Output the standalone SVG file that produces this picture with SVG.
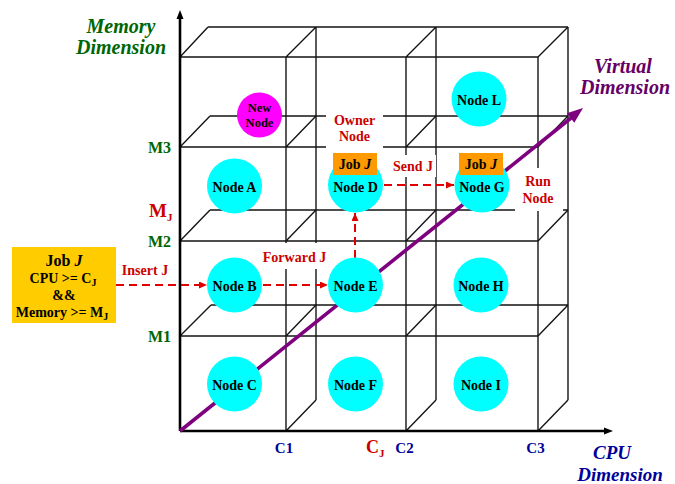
<svg xmlns="http://www.w3.org/2000/svg" width="675" height="484" viewBox="0 0 675 484">
<defs>
<style>
text{font-family:"Liberation Serif","Times New Roman",serif;font-weight:bold}
.g{stroke:#151515;stroke-width:1.4;fill:none}
.ax{stroke:#000;stroke-width:2.6;fill:none}
.bg{fill:#fff}
.cy{fill:#00FFFF}
.nt{font-size:14px;fill:#000;text-anchor:middle}
.job{fill:#FF9900}
.red{fill:#CC0000;font-size:14px;text-anchor:middle}
.dash{stroke:#E00000;stroke-width:2;stroke-dasharray:8,5;fill:none}
.mg{fill:#006600;font-size:16px;text-anchor:end}
.cb{fill:#000099;font-size:15px;text-anchor:middle}
.it{font-style:italic;font-size:20px;text-anchor:middle}
</style>
<marker id="ra" markerWidth="8" markerHeight="7" refX="8" refY="3.5" orient="auto" markerUnits="userSpaceOnUse">
<path d="M0,0 L8,3.5 L0,7 z" fill="#E00000"/>
</marker>
</defs>
<rect width="675" height="484" fill="#fff"/>
<g id="grid">
<path class="g" d="M180,57 H538 M208,27 H568 M180,57 L208,27 M286,57 L316,27 M406,57 L436,27 M538,57 L568,27"/>
<path class="g" d="M180,147 H538 M210,116 H568 M180,147 L210,116 M286,147 L316,116 M406,147 L436,116 M538,147 L568,116"/>
<path class="g" d="M180,241 H538 M210,210 H568 M180,241 L210,210 M286,241 L316,210 M406,241 L436,210 M538,241 L568,210"/>
<path class="g" d="M180,336 H538 M211,305 H568 M180,336 L211,305 M286,336 L316,305 M406,336 L436,305 M538,336 L568,305"/>
<path class="g" d="M286,431 L316,400 M406,431 L436,400 M538,431 L568,400"/>
<path class="g" d="M286,57 V431 M406,57 V431 M538,57 V431 M316,27 V400 M436,27 V400 M568,27 V400"/>
<path class="ax" d="M180,431 V18 M180,431 H604"/>
<polygon points="180,10 176.5,19 183.5,19" fill="#000"/>
<polygon points="613,431 604,427.5 604,434.5" fill="#000"/>
</g>
<g id="label-backgrounds">
<rect class="bg" x="326" y="106" width="57" height="45"/>
<rect class="bg" x="389" y="155" width="47" height="22"/>
<rect class="bg" x="260" y="243" width="70" height="26"/>
<rect class="bg" x="515" y="168" width="48" height="43"/>
</g>
<g id="connectors">
<line x1="180" y1="431" x2="571" y2="118" stroke="#7F007F" stroke-width="3.6"/>
<polygon points="583,108 574.3,122.7 566.8,113.3" fill="#7F007F"/>
<line class="dash" x1="116" y1="285" x2="207" y2="285" marker-end="url(#ra)"/>
<line class="dash" x1="263" y1="285" x2="328" y2="285" marker-end="url(#ra)"/>
<line class="dash" x1="355" y1="258" x2="355" y2="213" marker-end="url(#ra)"/>
<line class="dash" x1="384" y1="185" x2="454" y2="185" marker-end="url(#ra)"/>
</g>
<g id="node-new">
<circle cx="259.5" cy="115" r="22.5" fill="#FF00FF"/>
<text x="259.5" y="112" style="font-size:12.5px;text-anchor:middle">New</text>
<text x="259.5" y="127" style="font-size:12.5px;text-anchor:middle">Node</text>
</g>
<g id="node-l"><circle class="cy" cx="479" cy="99" r="27.5"/><text class="nt" x="479" y="105">Node L</text></g>
<g id="node-a"><circle class="cy" cx="234.5" cy="186" r="27.5"/><text class="nt" x="234.5" y="192">Node A</text></g>
<g id="node-d"><circle class="cy" cx="355.5" cy="185" r="27.5"/><text class="nt" x="355.5" y="192">Node D</text>
<rect class="job" x="333" y="153" width="44" height="22"/><text class="nt" x="355" y="169">Job <tspan font-style="italic">J</tspan></text></g>
<g id="node-g"><circle class="cy" cx="482" cy="185" r="27.5"/><text class="nt" x="482" y="192">Node G</text>
<rect class="job" x="459" y="153" width="44" height="22"/><text class="nt" x="481" y="169">Job <tspan font-style="italic">J</tspan></text></g>
<g id="node-b"><circle class="cy" cx="234.5" cy="285" r="27.5"/><text class="nt" x="234.5" y="291">Node B</text></g>
<g id="node-e"><circle class="cy" cx="355.5" cy="285" r="27.5"/><text class="nt" x="355.5" y="291">Node E</text></g>
<g id="node-h"><circle class="cy" cx="481" cy="285" r="27.5"/><text class="nt" x="481" y="291">Node H</text></g>
<g id="node-c"><circle class="cy" cx="234.5" cy="384" r="27.5"/><text class="nt" x="234.5" y="390">Node C</text></g>
<g id="node-f"><circle class="cy" cx="355.5" cy="384" r="27.5"/><text class="nt" x="355.5" y="390">Node F</text></g>
<g id="node-i"><circle class="cy" cx="481" cy="384" r="27.5"/><text class="nt" x="481" y="390">Node I</text></g>
<g id="job-request">
<rect x="12" y="247" width="104" height="76" fill="#FFCC00"/>
<text x="64" y="266" style="font-size:16px;text-anchor:middle">Job <tspan font-style="italic">J</tspan></text>
<text x="63" y="283" style="font-size:14px;text-anchor:middle">CPU &gt;= C<tspan font-size="10" dy="3">J</tspan></text>
<text x="64" y="300" style="font-size:14px;text-anchor:middle">&amp;&amp;</text>
<text x="62" y="317" style="font-size:14px;text-anchor:middle">Memory &gt;= M<tspan font-size="10" dy="3">J</tspan></text>
</g>
<g id="labels">
<text class="red" x="354.5" y="125">Owner</text>
<text class="red" x="354.5" y="141">Node</text>
<text class="red" x="413" y="171">Send J</text>
<text class="red" x="294.5" y="262">Forward J</text>
<text class="red" x="145" y="275">Insert J</text>
<text class="red" x="538" y="186">Run</text>
<text class="red" x="538" y="203">Node</text>
<text class="mg" x="171" y="153">M3</text>
<text class="mg" x="171" y="247">M2</text>
<text class="mg" x="171" y="342">M1</text>
<text x="149" y="217" style="font-size:19px;fill:#CC0000">M<tspan font-size="11" dy="4">J</tspan></text>
<text class="cb" x="284" y="453">C1</text>
<text class="cb" x="404.5" y="453">C2</text>
<text class="cb" x="535.5" y="453">C3</text>
<text x="366" y="453" style="font-size:18px;fill:#CC0000">C<tspan font-size="11" dy="4">J</tspan></text>
<text class="it" x="121" y="33" fill="#006600">Memory</text>
<text class="it" x="121" y="54" fill="#006600">Dimension</text>
<text class="it" x="623" y="73" fill="#660066">Virtual</text>
<text class="it" x="625" y="94" fill="#660066">Dimension</text>
<text class="it" x="612" y="459" fill="#000099" style="font-size:19px">CPU</text>
<text class="it" x="620" y="481" fill="#000099" style="font-size:19px">Dimension</text>
</g>
</svg>
